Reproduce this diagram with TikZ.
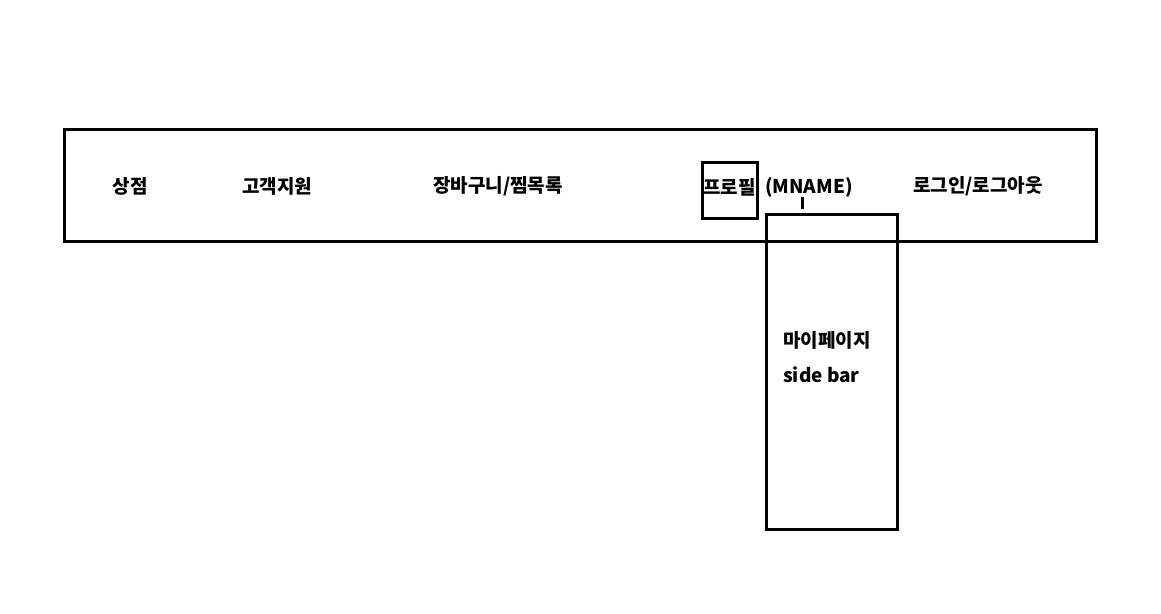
\documentclass[tikz,border=0pt]{standalone}
\usepackage{fontspec}
\setmainfont{Noto Sans CJK KR}
\usetikzlibrary{positioning}
\tikzset{
	lbl/.style={inner sep=0pt, font=\bfseries\fontsize{19}{22}\selectfont},
	boxline/.style={line width=3pt}
}

\begin{document}
\begin{tikzpicture}[x=1pt, y=-1pt]
			%%%%% START %%%%%
			
			\useasboundingbox[fill=white] (0, 0) rectangle (1161, 613);
			
			% top bar
			\draw[boxline] (64, 129) rectangle (1096, 241);
			
			\node[lbl] (shop) at (130, 186) {상점};
			\node[lbl] (support) at (277, 186) {고객지원};
			\node[lbl] (cart) at (498, 186) {장바구니/찜목록};
			\node[lbl, anchor=west] (profile) at (703, 187) {프로필};
			\node[lbl, anchor=west] (mname) at (765, 187) {(MNAME)};
			\node[lbl] (login) at (978, 186) {로그인/로그아웃};
			
			% profile box
			\draw[boxline] (702, 162) rectangle (757, 218);
			
			% side bar
			\draw[boxline] (766, 214) rectangle (897, 529);
			\draw[boxline] (802, 197) -- (802, 209);
			
			\node[lbl, anchor=west] (mypage) at (783, 340) {마이페이지};
			\node[lbl, anchor=west] (sidebar) at (783, 375) {side bar};
			
			%%%%% END %%%%%
		\end{tikzpicture}
\end{document}
